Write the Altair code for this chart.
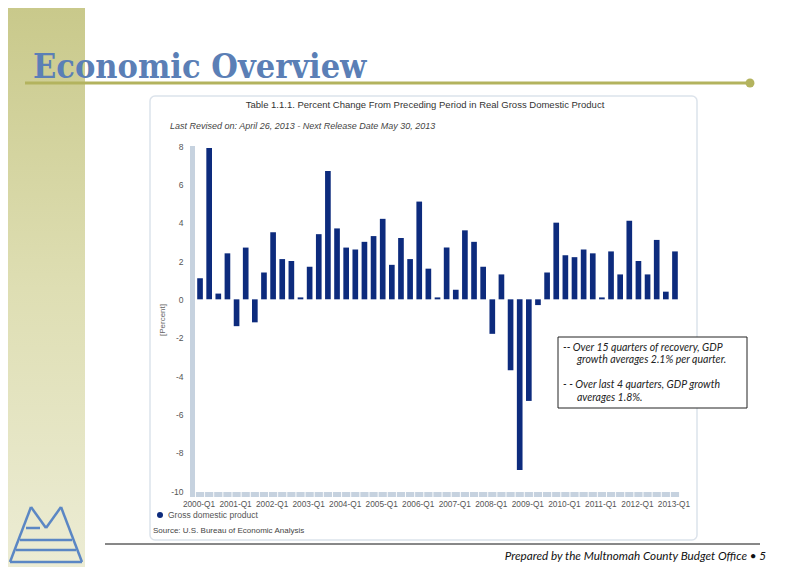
import altair as alt
import pandas as pd

# ---- data ----
years = list(range(2000, 2014))
quarters_per_year = ["Q1", "Q2", "Q3", "Q4"]
quarters = [f"{y}-{q}" for y in years for q in quarters_per_year][:53]  # 2000-Q1 .. 2013-Q1
gdp_change = [1.1, 7.9, 0.3, 2.4, -1.4, 2.7, -1.2, 1.4, 3.5, 2.1,
              2.0, 0.1, 1.7, 3.4, 6.7, 3.7, 2.7, 2.6, 3.0, 3.3,
              4.2, 1.8, 3.2, 2.1, 5.1, 1.6, 0.1, 2.7, 0.5, 3.6,
              3.0, 1.7, -1.8, 1.3, -3.7, -8.9, -5.3, -0.3, 1.4, 4.0,
              2.3, 2.2, 2.6, 2.4, 0.1, 2.5, 1.3, 4.1, 2.0, 1.3,
              3.1, 0.4, 2.5]
year_labels = [f"{y}-Q1" for y in years]
y_ticks = list(range(-10, 9, 2))

slide_title = "Economic Overview"
chart_title = "Table 1.1.1. Percent Change From Preceding Period in Real Gross Domestic Product"
chart_subtitle = "Last Revised on: April 26, 2013 - Next Release Date May 30, 2013"
legend_label = "Gross domestic product"
source_label = "Source: U.S. Bureau of Economic Analysis"
notes = ["-- Over 15 quarters of recovery, GDP", "growth averages 2.1% per quarter.",
         "- - Over last 4 quarters, GDP growth", "averages 1.8%."]
footer = "Prepared by the Multnomah County Budget Office \u2022 5"

df = pd.DataFrame({"quarter": quarters, "value": gdp_change})

W, H = 489, 345
X0, Y0 = 193, 146  # page position of plot origin


def px(X):
    return X - X0


def py(Y):
    return Y - Y0


one = alt.Data(values=[{}])
SANS = "Liberation Sans"
BAR = "#0d2b7d"

xscale = alt.Scale(paddingInner=0.38, paddingOuter=0.46)
yscale = alt.Scale(domain=[-10, 8], nice=False, zero=True)
xaxis = alt.Axis(values=year_labels, labelAngle=0, ticks=False, domain=False, grid=False,
                 labelPadding=8, labelFontSize=8.3, labelFont=SANS, labelColor="#555555",
                 labelOffset=-1, title=None, labelOverlap=False, zindex=2)
yaxis = alt.Axis(values=y_ticks, ticks=False, domain=False, grid=False, labelPadding=10,
                 labelFontSize=8.5, labelFont=SANS, labelColor="#555555", title=None,
                 labelExpr="'' + datum.value", zindex=2)

layers = []

# sidebar gradient
layers.append(alt.Chart(one).mark_rect(
    color=alt.Gradient(gradient="linear",
                       stops=[alt.GradientStop(color="#c9c98b", offset=0),
                              alt.GradientStop(color="#dedeb3", offset=0.5),
                              alt.GradientStop(color="#ececd4", offset=1)],
                       x1=0, x2=0, y1=0, y2=1)
).encode(x=alt.value(px(8)), x2=alt.value(px(85)), y=alt.value(py(8)), y2=alt.value(py(568))))

# slide title + olive rule
layers.append(alt.Chart(one).mark_text(
    text=slide_title, font="DejaVu Serif Condensed", fontWeight="bold", fontSize=34,
    color="#5b7fb6", align="left", baseline="alphabetic"
).encode(x=alt.value(px(33)), y=alt.value(py(78))))
layers.append(alt.Chart(one).mark_rule(color="#b3b35e", strokeWidth=3).encode(
    x=alt.value(px(25)), x2=alt.value(px(748)), y=alt.value(py(83))))
layers.append(alt.Chart(one).mark_point(filled=True, color="#b3b35e", size=80, opacity=1).encode(
    x=alt.value(px(750)), y=alt.value(py(83))))

# panel box
layers.append(alt.Chart(one).mark_rect(fill="white", stroke="#dce3eb", strokeWidth=1.5, cornerRadius=5).encode(
    x=alt.value(px(150)), x2=alt.value(px(697)), y=alt.value(py(96)), y2=alt.value(py(540))))

# panel titles
layers.append(alt.Chart(one).mark_text(
    text=chart_title, font=SANS, fontSize=9.5, color="#333333", align="center", baseline="middle"
).encode(x=alt.value(px(425)), y=alt.value(py(105))))
layers.append(alt.Chart(one).mark_text(
    text=chart_subtitle, font=SANS, fontSize=9, fontStyle="italic", color="#444444",
    align="left", baseline="middle"
).encode(x=alt.value(px(170)), y=alt.value(py(126))))

# y title
layers.append(alt.Chart(one).mark_text(
    text="[Percent]", font=SANS, fontSize=8, color="#666666", angle=270,
    align="center", baseline="middle"
).encode(x=alt.value(px(163)), y=alt.value(py(320))))

# axis scroll-like bars
layers.append(alt.Chart(one).mark_rect(color="#c6d2df").encode(
    x=alt.value(px(190)), x2=alt.value(px(195)), y=alt.value(py(146)), y2=alt.value(py(497))))
layers.append(alt.Chart(df).mark_bar(color="#c6d2df", width=alt.RelativeBandSize(1.45)).encode(
    x=alt.X("quarter:N", sort=quarters, scale=xscale, axis=xaxis),
    y=alt.value(py(492)), y2=alt.value(py(497))))

# bars
layers.append(alt.Chart(df).mark_bar(color=BAR).encode(
    x=alt.X("quarter:N", sort=quarters, scale=xscale, axis=xaxis),
    y=alt.Y("value:Q", scale=yscale, axis=yaxis),
))

# legend
layers.append(alt.Chart(one).mark_point(filled=True, color="#0d2b7d", size=36, opacity=1).encode(
    x=alt.value(px(160)), y=alt.value(py(515))))
layers.append(alt.Chart(one).mark_text(
    text=legend_label, font=SANS, fontSize=8.5, color="#555555", align="left", baseline="middle"
).encode(x=alt.value(px(168)), y=alt.value(py(515))))
layers.append(alt.Chart(one).mark_text(
    text=source_label, font=SANS, fontSize=8, color="#444444", align="left", baseline="middle"
).encode(x=alt.value(px(153)), y=alt.value(py(531))))

# annotation box
layers.append(alt.Chart(one).mark_rect(fill="white", stroke="#222222", strokeWidth=1).encode(
    x=alt.value(px(558)), x2=alt.value(px(747)), y=alt.value(py(337)), y2=alt.value(py(408))))
note_pos = [(563, 348), (577, 360), (563, 385), (577, 398)]
for t, (nx, ny) in zip(notes, note_pos):
    layers.append(alt.Chart(one).mark_text(
        text=t, font="Lato", fontSize=10.5, fontStyle="italic", color="#222222",
        align="left", baseline="middle"
    ).encode(x=alt.value(px(nx)), y=alt.value(py(ny))))

# footer
layers.append(alt.Chart(one).mark_rule(color="#111111", strokeWidth=1).encode(
    x=alt.value(px(105)), x2=alt.value(px(760)), y=alt.value(py(544))))
layers.append(alt.Chart(one).mark_text(
    text=footer, font="Lato", fontSize=11.7, fontStyle="italic", color="#111111",
    align="right", baseline="middle"
).encode(x=alt.value(px(766)), y=alt.value(py(556))))

# simple logo outline
LOGO = "#5b87c4"
logo_segments = [((10, 562), (31, 507)), ((31, 507), (46, 528)), ((46, 528), (61, 507)),
                 ((61, 507), (82, 562)), ((10, 562), (82, 562)),
                 ((20, 540), (72, 540)), ((16, 550), (76, 550)), ((26, 528), (40, 528))]
for (ax, ay), (bx, by) in logo_segments:
    layers.append(alt.Chart(one).mark_rule(color=LOGO, strokeWidth=2.5).encode(
        x=alt.value(px(ax)), y=alt.value(py(ay)), x2=alt.value(px(bx)), y2=alt.value(py(by))))

chart = alt.layer(*layers).properties(
    width=W, height=H,
    autosize=alt.AutoSizeParams(type="none"),
    padding={"left": X0 - 8, "top": Y0 - 8, "right": 94, "bottom": 76},
).configure_view(stroke=None)

chart.save("out.html", embed_options={"renderer": "svg", "actions": False})
